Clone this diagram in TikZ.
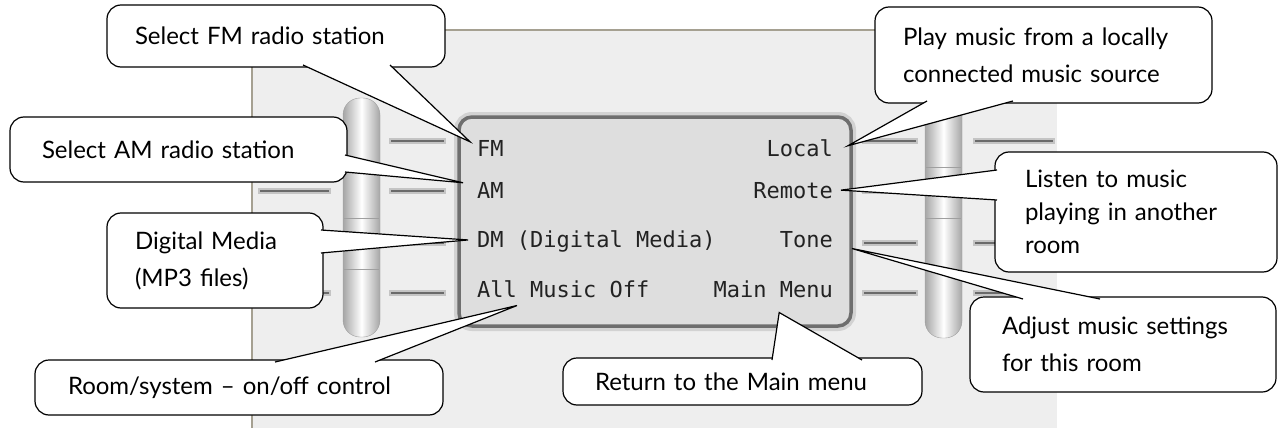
\documentclass[tikz,border=0pt]{standalone}
\usepackage{fontspec}
\setmainfont{Lato}
\newfontfamily\lcdfont{DejaVu Sans Mono}
\usetikzlibrary{calc,positioning}
\definecolor{panelgray}{HTML}{EEEEEE}
\definecolor{panelrim}{RGB}{165,160,145}
\definecolor{lcdfill}{HTML}{DEDEDE}
\definecolor{lcdrim}{HTML}{6E6E6E}
\definecolor{lcdink}{HTML}{222222}
\definecolor{keyband}{HTML}{C4C4C4}
\definecolor{keyink}{HTML}{6A6A6A}

\begin{document}
\begin{tikzpicture}[
    x=1pt, y=-1pt,
    note/.style={draw, fill=white, line width=1.2pt, rounded corners=14pt, outer sep=0pt,
        anchor=north west, align=left, inner ysep=0pt, font=\fontsize{24}{37}\selectfont},
    notetip/.style={fill=white, line width=1.2pt},
    lcdtext/.style={inner sep=0pt, text=lcdink, font=\lcdfont\fontsize{22}{22}\selectfont},
    bar/.style={left color=gray!70, right color=gray!70, middle color=white, rounded corners=17pt},
    keyline/.style={line width=6pt, keyband},
    keymark/.style={line width=1.3pt, keyink}
]
    \useasboundingbox (0,0) rectangle (1280,428);

    % front panel
    \fill[panelgray] (252,30) rectangle (1057,428);
    \draw[panelrim, line width=2pt] (252,428) -- (252,30) -- (1057,30);

    % soft keys beside the screen
    \foreach \y in {141,191,243,293} {
        \draw[keyline] (258,\y) -- (331,\y);
        \draw[keymark] (260,\y) -- (329,\y);
        \draw[keyline] (389,\y) -- (446,\y);
        \draw[keymark] (391,\y) -- (444,\y);
        \draw[keyline] (862,\y) -- (918,\y);
        \draw[keymark] (864,\y) -- (916,\y);
        \draw[keyline] (973,\y) -- (1055,\y);
        \draw[keymark] (975,\y) -- (1053,\y);
    }

    % scroll bars
    \shade[bar] (343,98) rectangle (380,337);
    \draw[gray!75, rounded corners=17pt] (343,98) rectangle (380,337);
    \draw[gray!75] (344,218) -- (379,218) (344,269) -- (379,269);
    \shade[bar] (925,98) rectangle (962,338);
    \draw[gray!75, rounded corners=17pt] (925,98) rectangle (962,338);
    \draw[gray!75] (926,167) -- (961,167) (926,218) -- (961,218);

    % screen
    \draw[gray!35, line width=8pt, rounded corners=14pt] (458,116) rectangle (852,327);
    \draw[lcdrim, fill=lcdfill, line width=3.5pt, rounded corners=13pt] (459,117) rectangle (851,326);

    \node[lcdtext, anchor=base west] (fm) at (477,156) {FM};
    \node[lcdtext, anchor=base west] (am) at (477,198) {AM};
    \node[lcdtext, anchor=base west] (dm) at (477,247) {DM (Digital Media)};
    \node[lcdtext, anchor=base west] (amo) at (477,297) {All Music Off};
    \node[lcdtext, anchor=base east] (local) at (833,156) {Local};
    \node[lcdtext, anchor=base east] (remote) at (833,198) {Remote};
    \node[lcdtext, anchor=base east] (tone) at (833,247) {Tone};
    \node[lcdtext, anchor=base east] (mm) at (833,297) {Main Menu};

    % callouts
    \node[note, text width=282pt, inner xsep=28pt, minimum height=62pt] (fmnote) at (107,5) {Select FM radio station};
    \node[note, text width=273pt, inner xsep=32pt, minimum height=65pt] (amnote) at (10,117) {Select AM radio station};
    \node[note, text width=160pt, inner xsep=28pt, minimum height=95pt] (dmnote) at (107,213) {Digital Media\\(MP3 files)};
    \node[note, text width=342pt, inner xsep=33pt, minimum height=55pt] (roomnote) at (35,360) {Room/system -- on/off control};
    \node[note, text width=295pt, inner xsep=32pt, minimum height=47pt] (mmnote) at (563,358) {Return to the Main menu};
    \node[note, text width=281pt, inner xsep=28pt, minimum height=96pt] (localnote) at (875,7) {Play music from a locally\\connected music source};
    \node[note, text width=222pt, inner xsep=30pt, minimum height=120pt, font=\fontsize{24}{33}\selectfont] (remotenote) at (995,152) {Listen to music\\playing in another\\room};
    \node[note, text width=242pt, inner xsep=32pt, minimum height=95pt] (tonenote) at (970,297) {Adjust music settings\\for this room};

    % callout pointers
    \filldraw[notetip] ($(fmnote.south west)+(196,-2)$) -- ($(fm.north west)+(-7,2)$) -- ($(fmnote.south west)+(283,-2)$);
    \filldraw[notetip] ($(amnote.north east)+(-2,38)$) -- ($(am.north west)+(-14,1)$) -- ($(amnote.north east)+(-2,55)$);
    \filldraw[notetip] ($(dmnote.north east)+(-2,17)$) -- ($(dm.west)+(-9,-1)$) -- ($(dmnote.north east)+(-2,40)$);
    \filldraw[notetip] ($(roomnote.north west)+(240,2)$) -- ($(amo.south west)+(40,8)$) -- ($(roomnote.north west)+(340,2)$);
    \filldraw[notetip] ($(mmnote.north west)+(209,2)$) -- ($(mm.south)+(6,15)$) -- ($(mmnote.north west)+(299,2)$);
    \filldraw[notetip] ($(localnote.south west)+(52,-2)$) -- ($(local.east)+(15,-2)$) -- ($(localnote.south west)+(138,-2)$);
    \filldraw[notetip] ($(remotenote.north west)+(2,18)$) -- ($(remote.east)+(8,0)$) -- ($(remotenote.north west)+(2,48)$);
    \filldraw[notetip] ($(tonenote.north west)+(53,2)$) -- ($(tone.south east)+(19,1)$) -- ($(tonenote.north west)+(130,2)$);
\end{tikzpicture}
\end{document}
